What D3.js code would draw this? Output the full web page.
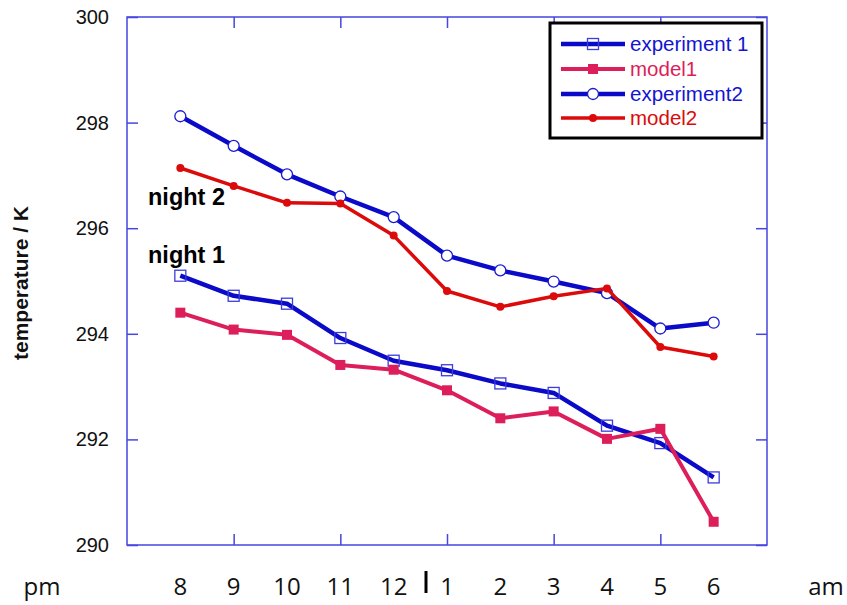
<!DOCTYPE html>
<html>
<head>
<meta charset="utf-8">
<script src="https://cdn.jsdelivr.net/npm/d3@7"></script>
<style>
  body { margin: 0; background: #fff; }
  svg { display: block; }
</style>
</head>
<body>
<div id="chart"></div>
<script>
// hour labels along the bottom (8 pm .. 6 am)
var hours = ["8", "9", "10", "11", "12", "1", "2", "3", "4", "5", "6"];

var experiment1 = [295.10, 294.72, 294.57, 293.92, 293.49, 293.31, 293.06, 292.88, 292.26, 291.93, 291.28];
var model1 = [294.40, 294.08, 293.98, 293.41, 293.32, 292.93, 292.40, 292.53, 292.01, 292.20, 290.44];
var experiment2 = [298.12, 297.56, 297.02, 296.60, 296.21, 295.48, 295.20, 294.99, 294.77, 294.10, 294.21];
var model2 = [297.14, 296.80, 296.48, 296.47, 295.86, 294.81, 294.51, 294.71, 294.86, 293.75, 293.57];

var yTicks = [290, 292, 294, 296, 298, 300];

var w = 847;
var h = 605;

var pLeft = 127, pRight = 767, pTop = 17, pBottom = 545;

var axisColor = "#4646e0";
var blue = "#0a0ac8";
var pink = "#dc1e5a";
var red = "#dc0a0a";
var sans = "Liberation Sans, Arial, sans-serif";

var svg = d3.select("#chart")
  .append("svg")
  .attr("width", w)
  .attr("height", h);

var xScale = d3.scaleLinear().domain([-1, 11]).range([pLeft, pRight]);
var yScale = d3.scaleLinear().domain([290, 300]).range([pBottom, pTop]);

// frame
svg.append("rect")
  .attr("x", pLeft)
  .attr("y", pTop)
  .attr("width", pRight - pLeft)
  .attr("height", pBottom - pTop)
  .attr("fill", "none")
  .attr("stroke", axisColor)
  .attr("stroke-width", 1.5);

// inward ticks on all four sides
var tickLen = 11;
var yAxisL = d3.axisRight(yScale).tickValues(yTicks).tickSize(tickLen).tickFormat("");
var yAxisR = d3.axisLeft(yScale).tickValues(yTicks).tickSize(tickLen).tickFormat("");
var xTickIdx = [1, 3, 5, 7, 9];
var xAxisB = d3.axisTop(xScale).tickValues(xTickIdx).tickSize(tickLen).tickFormat("");
var xAxisT = d3.axisBottom(xScale).tickValues(xTickIdx).tickSize(tickLen).tickFormat("");

svg.append("g").attr("transform", "translate(" + pLeft + ",0)").call(yAxisL);
svg.append("g").attr("transform", "translate(" + pRight + ",0)").call(yAxisR);
svg.append("g").attr("transform", "translate(0," + pBottom + ")").call(xAxisB);
svg.append("g").attr("transform", "translate(0," + pTop + ")").call(xAxisT);

svg.selectAll(".domain").remove();
svg.selectAll(".tick line").attr("stroke", axisColor).attr("stroke-width", 1.5);

// y tick labels
svg.append("g")
  .selectAll("text")
  .data(yTicks)
  .enter()
  .append("text")
  .attr("x", 109)
  .attr("y", function(d) { return yScale(d) + 7; })
  .attr("text-anchor", "end")
  .attr("font-family", sans)
  .attr("font-size", 20)
  .attr("fill", "#111")
  .text(function(d) { return d; });

// y axis title
svg.append("text")
  .attr("transform", "translate(28,283)rotate(-90)")
  .attr("text-anchor", "middle")
  .attr("font-family", sans)
  .attr("font-weight", "bold")
  .attr("font-size", 21)
  .attr("fill", "#111")
  .text("temperature / K");

// hour labels
var labelFont = "Open Sans, Noto Sans, sans-serif";
svg.append("g")
  .selectAll("text")
  .data(hours)
  .enter()
  .append("text")
  .attr("x", function(d, i) { return xScale(i); })
  .attr("y", 595)
  .attr("text-anchor", "middle")
  .attr("font-family", labelFont)
  .attr("font-size", 24)
  .attr("fill", "#111")
  .text(function(d) { return d; });

svg.append("text")
  .attr("x", 42).attr("y", 595)
  .attr("text-anchor", "middle")
  .attr("font-family", labelFont)
  .attr("font-size", 24)
  .attr("fill", "#111")
  .text("pm");

svg.append("text")
  .attr("x", 826).attr("y", 595)
  .attr("text-anchor", "middle")
  .attr("font-family", labelFont)
  .attr("font-size", 24)
  .attr("fill", "#111")
  .text("am");

// midnight separator
svg.append("line")
  .attr("x1", 426).attr("x2", 426)
  .attr("y1", 571).attr("y2", 593)
  .attr("stroke", "#000")
  .attr("stroke-width", 3);

// night annotations
svg.append("text")
  .attr("x", 148).attr("y", 205)
  .attr("font-family", sans)
  .attr("font-weight", "bold")
  .attr("font-size", 23.5)
  .attr("fill", "#000")
  .text("night 2");

svg.append("text")
  .attr("x", 148).attr("y", 263)
  .attr("font-family", sans)
  .attr("font-weight", "bold")
  .attr("font-size", 23.5)
  .attr("fill", "#000")
  .text("night 1");

var line = d3.line()
  .x(function(d, i) { return xScale(i); })
  .y(function(d) { return yScale(d); });

var series = [
  { name: "experiment 1", values: experiment1, color: blue, width: 4.5, marker: "openSquare" },
  { name: "model1", values: model1, color: pink, width: 4, marker: "square" },
  { name: "experiment2", values: experiment2, color: blue, width: 4.5, marker: "openCircle" },
  { name: "model2", values: model2, color: red, width: 3.5, marker: "dot" }
];

function drawMarker(g, type, color, cx, cy) {
  if (type === "openSquare") {
    g.append("rect")
      .attr("x", cx - 5.5).attr("y", cy - 5.5)
      .attr("width", 11).attr("height", 11)
      .attr("fill", "none")
      .attr("stroke", "#3c3cdc")
      .attr("stroke-width", 1.3);
  }
  else if (type === "square") {
    g.append("rect")
      .attr("x", cx - 5).attr("y", cy - 5)
      .attr("width", 10).attr("height", 10)
      .attr("fill", color);
  }
  else if (type === "openCircle") {
    g.append("circle")
      .attr("cx", cx).attr("cy", cy).attr("r", 5.5)
      .attr("fill", "#fff")
      .attr("stroke", "#1a1ad0")
      .attr("stroke-width", 1.3);
  }
  else {
    g.append("circle")
      .attr("cx", cx).attr("cy", cy).attr("r", 4)
      .attr("fill", color);
  }
}

series.forEach(function(s) {
  svg.append("path")
    .datum(s.values)
    .attr("d", line)
    .attr("fill", "none")
    .attr("stroke", s.color)
    .attr("stroke-width", s.width)
    .attr("stroke-linejoin", "round");

  var g = svg.append("g");
  s.values.forEach(function(v, i) {
    drawMarker(g, s.marker, s.color, xScale(i), yScale(v));
  });
});

// legend
var legend = svg.append("g");
legend.append("rect")
  .attr("x", 550).attr("y", 23)
  .attr("width", 212).attr("height", 115)
  .attr("fill", "#fff")
  .attr("stroke", "#000")
  .attr("stroke-width", 3);

var rowY = [44, 69, 94, 118];
series.forEach(function(s, i) {
  var y = rowY[i];
  legend.append("line")
    .attr("x1", 561).attr("x2", 625)
    .attr("y1", y).attr("y2", y)
    .attr("stroke", s.color)
    .attr("stroke-width", s.width);
  drawMarker(legend, s.marker, s.color, 593, y);
  legend.append("text")
    .attr("x", 630).attr("y", y + 7)
    .attr("font-family", sans)
    .attr("font-size", 20.5)
    .attr("fill", s.color === red ? red : (s.color === pink ? pink : "#1414d2"))
    .text(s.name);
});
</script>
</body>
</html>
